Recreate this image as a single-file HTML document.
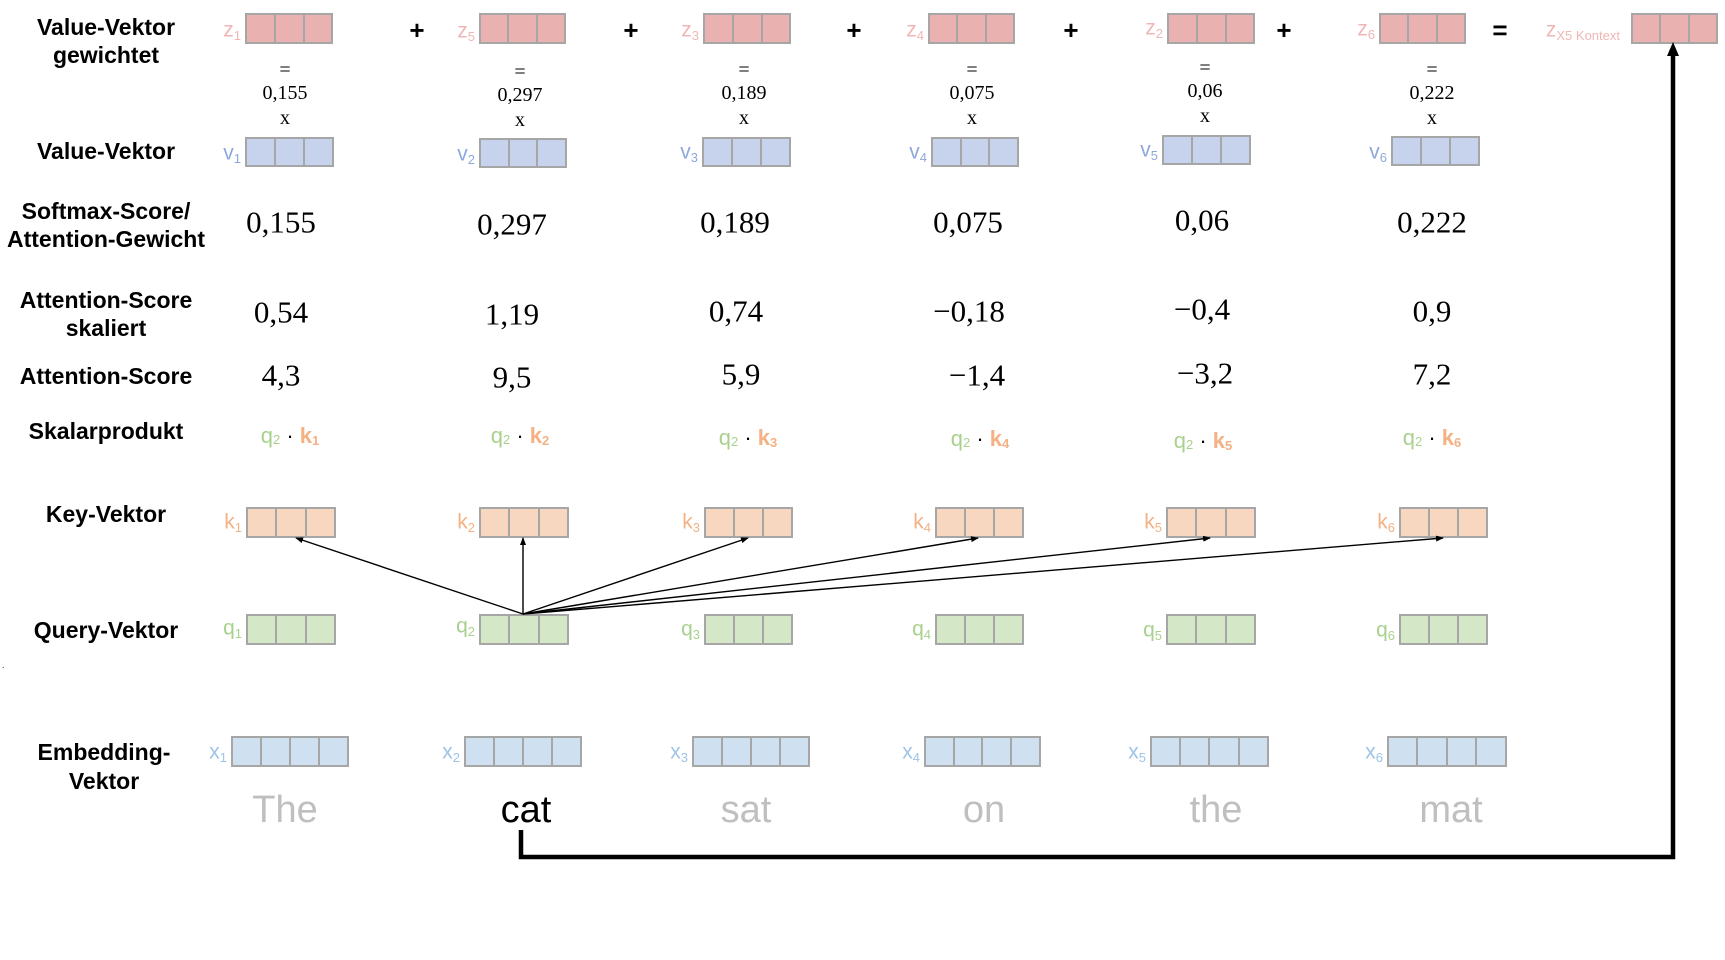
<!DOCTYPE html>
<html><head><meta charset="utf-8"><style>
html,body{margin:0;padding:0;background:#fff;}
svg{display:block;}
.lb{font-family:"Liberation Sans",Arial,sans-serif;font-weight:bold;font-size:23px;fill:#000;text-anchor:middle;dominant-baseline:central;}
.big{font-family:"Liberation Serif",serif;font-size:31px;fill:#000;text-anchor:middle;dominant-baseline:central;}
.sm{font-family:"Liberation Serif",serif;font-size:20px;fill:#000;text-anchor:middle;dominant-baseline:central;}
.op{font-family:"Liberation Sans",sans-serif;font-weight:bold;font-size:26px;fill:#000;text-anchor:middle;dominant-baseline:central;}
.vl{font-family:"Liberation Sans",sans-serif;font-size:21px;text-anchor:end;dominant-baseline:central;}
.sub{font-size:13px;}
.word{font-family:"Liberation Sans",sans-serif;font-size:38px;text-anchor:middle;dominant-baseline:central;fill:#bfbfbf;}
.dot{font-family:"Liberation Sans",sans-serif;font-size:22px;text-anchor:middle;dominant-baseline:central;}
</style></head><body>
<svg width="1725" height="960" viewBox="0 0 1725 960" xmlns="http://www.w3.org/2000/svg">
<defs>
<marker id="ah" markerWidth="8" markerHeight="6" refX="7" refY="3" orient="auto" markerUnits="userSpaceOnUse"><path d="M0,0 L8,3 L0,6 z" fill="#000"/></marker>
</defs>
<g stroke="#a6a6a6" stroke-width="2">
<!-- z row -->
<g fill="#eab1b1">
<rect x="246" y="14" width="86" height="29"/><rect x="480" y="14" width="85" height="29"/><rect x="704" y="14" width="86" height="29"/><rect x="929" y="14" width="85" height="29"/><rect x="1168" y="14" width="86" height="29"/><rect x="1380" y="14" width="85" height="29"/><rect x="1632" y="14" width="85" height="29"/>
</g>
<path d="M275 14v29M304 14v29M508 14v29M537 14v29M733 14v29M762 14v29M957 14v29M986 14v29M1197 14v29M1226 14v29M1408 14v29M1437 14v29M1660 14v29M1689 14v29"/>
<!-- v row -->
<g fill="#c7d3ec">
<rect x="246" y="138" width="87" height="28"/><rect x="480" y="139" width="86" height="28"/><rect x="703" y="138" width="87" height="28"/><rect x="932" y="138" width="86" height="28"/><rect x="1163" y="136" width="87" height="28"/><rect x="1392" y="137" width="87" height="28"/>
</g>
<path d="M275 138v28M304 138v28M509 139v28M537 139v28M732 138v28M761 138v28M961 138v28M989 138v28M1192 136v28M1221 136v28M1421 137v28M1450 137v28"/>
<!-- k row -->
<g fill="#f8d7c0">
<rect x="247" y="508" width="88" height="29"/><rect x="480" y="508" width="88" height="29"/><rect x="705" y="508" width="87" height="29"/><rect x="936" y="508" width="87" height="29"/><rect x="1167" y="508" width="88" height="29"/><rect x="1400" y="508" width="87" height="29"/>
</g>
<path d="M276 508v29M306 508v29M509 508v29M539 508v29M734 508v29M763 508v29M965 508v29M994 508v29M1196 508v29M1226 508v29M1429 508v29M1458 508v29"/>
<!-- q row -->
<g fill="#d4e8c7">
<rect x="247" y="615" width="88" height="29"/><rect x="480" y="615" width="88" height="29"/><rect x="705" y="615" width="87" height="29"/><rect x="936" y="615" width="87" height="29"/><rect x="1167" y="615" width="88" height="29"/><rect x="1400" y="615" width="87" height="29"/>
</g>
<path d="M276 615v29M306 615v29M509 615v29M539 615v29M734 615v29M763 615v29M965 615v29M994 615v29M1196 615v29M1226 615v29M1429 615v29M1458 615v29"/>
<!-- x row -->
<g fill="#cfe0f1">
<rect x="232" y="737" width="116" height="29"/><rect x="465" y="737" width="116" height="29"/><rect x="693" y="737" width="116" height="29"/><rect x="925" y="737" width="115" height="29"/><rect x="1151" y="737" width="117" height="29"/><rect x="1388" y="737" width="118" height="29"/>
</g>
<path d="M261 737v29M290 737v29M319 737v29M494 737v29M523 737v29M552 737v29M722 737v29M751 737v29M780 737v29M954 737v29M982 737v29M1011 737v29M1180 737v29M1209 737v29M1239 737v29M1417 737v29M1447 737v29M1476 737v29"/>
</g>

<!-- row labels -->
<text class="lb" x="106" y="27">Value-Vektor</text>
<text class="lb" x="106" y="55">gewichtet</text>
<text class="lb" x="106" y="151">Value-Vektor</text>
<text class="lb" x="106" y="211">Softmax-Score/</text>
<text class="lb" x="106" y="239">Attention-Gewicht</text>
<text class="lb" x="106" y="300">Attention-Score</text>
<text class="lb" x="106" y="328">skaliert</text>
<text class="lb" x="106" y="376">Attention-Score</text>
<text class="lb" x="106" y="431">Skalarprodukt</text>
<text class="lb" x="106" y="514">Key-Vektor</text>
<text class="lb" x="106" y="630">Query-Vektor</text>
<text class="lb" x="104" y="752">Embedding-</text>
<text class="lb" x="104" y="781">Vektor</text>
<text x="2" y="668" font-size="10" fill="#555">.</text>

<!-- operators -->
<text class="op" x="417" y="30">+</text><text class="op" x="631" y="30">+</text><text class="op" x="854" y="30">+</text><text class="op" x="1071" y="30">+</text><text class="op" x="1284" y="30">+</text><text class="op" x="1500" y="30">=</text>

<!-- z labels -->
<g class="vl" fill="#f0b6b6">
<text x="241" y="30">z<tspan class="sub" dy="5">1</tspan></text>
<text x="475" y="31">z<tspan class="sub" dy="5">5</tspan></text>
<text x="699" y="30">z<tspan class="sub" dy="5">3</tspan></text>
<text x="924" y="30">z<tspan class="sub" dy="5">4</tspan></text>
<text x="1163" y="28">z<tspan class="sub" dy="5">2</tspan></text>
<text x="1375" y="29">z<tspan class="sub" dy="5">6</tspan></text>
<text x="1620" y="30">z<tspan class="sub" dy="5" font-size="14">X5 Kontext</tspan></text>
</g>
<!-- v labels -->
<g class="vl" fill="#8fa8dc">
<text x="241" y="153">v<tspan class="sub" dy="5">1</tspan></text>
<text x="475" y="154">v<tspan class="sub" dy="5">2</tspan></text>
<text x="698" y="152">v<tspan class="sub" dy="5">3</tspan></text>
<text x="927" y="152">v<tspan class="sub" dy="5">4</tspan></text>
<text x="1158" y="150">v<tspan class="sub" dy="5">5</tspan></text>
<text x="1387" y="152">v<tspan class="sub" dy="5">6</tspan></text>
</g>
<!-- k labels -->
<g class="vl" fill="#f4b183">
<text x="242" y="522">k<tspan class="sub" dy="5">1</tspan></text>
<text x="475" y="522">k<tspan class="sub" dy="5">2</tspan></text>
<text x="700" y="522">k<tspan class="sub" dy="5">3</tspan></text>
<text x="931" y="522">k<tspan class="sub" dy="5">4</tspan></text>
<text x="1162" y="522">k<tspan class="sub" dy="5">5</tspan></text>
<text x="1395" y="522">k<tspan class="sub" dy="5">6</tspan></text>
</g>
<!-- q labels -->
<g class="vl" fill="#a9d18e">
<text x="242" y="628">q<tspan class="sub" dy="5">1</tspan></text>
<text x="475" y="626">q<tspan class="sub" dy="5">2</tspan></text>
<text x="700" y="629">q<tspan class="sub" dy="5">3</tspan></text>
<text x="931" y="629">q<tspan class="sub" dy="5">4</tspan></text>
<text x="1162" y="630">q<tspan class="sub" dy="5">5</tspan></text>
<text x="1395" y="630">q<tspan class="sub" dy="5">6</tspan></text>
</g>
<!-- x labels -->
<g class="vl" fill="#9dc3e6">
<text x="227" y="752">x<tspan class="sub" dy="5">1</tspan></text>
<text x="460" y="752">x<tspan class="sub" dy="5">2</tspan></text>
<text x="688" y="752">x<tspan class="sub" dy="5">3</tspan></text>
<text x="920" y="752">x<tspan class="sub" dy="5">4</tspan></text>
<text x="1146" y="752">x<tspan class="sub" dy="5">5</tspan></text>
<text x="1383" y="752">x<tspan class="sub" dy="5">6</tspan></text>
</g>

<!-- small =, number, x -->
<g class="sm">
<text x="285" y="70">=</text><text x="285" y="93">0,155</text><text x="285" y="118">x</text>
<text x="520" y="72">=</text><text x="520" y="95">0,297</text><text x="520" y="120">x</text>
<text x="744" y="70">=</text><text x="744" y="93">0,189</text><text x="744" y="118">x</text>
<text x="972" y="70">=</text><text x="972" y="93">0,075</text><text x="972" y="118">x</text>
<text x="1205" y="68">=</text><text x="1205" y="91">0,06</text><text x="1205" y="116">x</text>
<text x="1432" y="70">=</text><text x="1432" y="93">0,222</text><text x="1432" y="118">x</text>
</g>

<!-- big numbers -->
<g class="big">
<text x="281" y="222">0,155</text><text x="512" y="224">0,297</text><text x="735" y="222">0,189</text><text x="968" y="222">0,075</text><text x="1202" y="220">0,06</text><text x="1432" y="222">0,222</text>
<text x="281" y="312">0,54</text><text x="512" y="314">1,19</text><text x="736" y="311">0,74</text><text x="969" y="311">−0,18</text><text x="1202" y="309">−0,4</text><text x="1432" y="311">0,9</text>
<text x="281" y="375">4,3</text><text x="512" y="377">9,5</text><text x="741" y="374">5,9</text><text x="977" y="375">−1,4</text><text x="1205" y="373">−3,2</text><text x="1432" y="374">7,2</text>
</g>

<!-- dot products -->
<g class="dot">
<text x="290" y="435"><tspan fill="#a9d18e">q<tspan class="sub" dy="4">2</tspan></tspan><tspan dy="-4" fill="#000"> · </tspan><tspan fill="#f4b183" font-weight="bold">k<tspan class="sub" dy="5">1</tspan></tspan></text>
<text x="520" y="435"><tspan fill="#a9d18e">q<tspan class="sub" dy="4">2</tspan></tspan><tspan dy="-4" fill="#000"> · </tspan><tspan fill="#f4b183" font-weight="bold">k<tspan class="sub" dy="5">2</tspan></tspan></text>
<text x="748" y="437"><tspan fill="#a9d18e">q<tspan class="sub" dy="4">2</tspan></tspan><tspan dy="-4" fill="#000"> · </tspan><tspan fill="#f4b183" font-weight="bold">k<tspan class="sub" dy="5">3</tspan></tspan></text>
<text x="980" y="438"><tspan fill="#a9d18e">q<tspan class="sub" dy="4">2</tspan></tspan><tspan dy="-4" fill="#000"> · </tspan><tspan fill="#f4b183" font-weight="bold">k<tspan class="sub" dy="5">4</tspan></tspan></text>
<text x="1203" y="440"><tspan fill="#a9d18e">q<tspan class="sub" dy="4">2</tspan></tspan><tspan dy="-4" fill="#000"> · </tspan><tspan fill="#f4b183" font-weight="bold">k<tspan class="sub" dy="5">5</tspan></tspan></text>
<text x="1432" y="437"><tspan fill="#a9d18e">q<tspan class="sub" dy="4">2</tspan></tspan><tspan dy="-4" fill="#000"> · </tspan><tspan fill="#f4b183" font-weight="bold">k<tspan class="sub" dy="5">6</tspan></tspan></text>
</g>

<!-- arrows -->
<g stroke="#000" stroke-width="1.4" fill="none" marker-end="url(#ah)">
<line x1="523" y1="614" x2="296" y2="538"/>
<line x1="523" y1="614" x2="523" y2="538"/>
<line x1="523" y1="614" x2="748" y2="538"/>
<line x1="523" y1="614" x2="978" y2="538"/>
<line x1="523" y1="614" x2="1210" y2="538"/>
<line x1="523" y1="614" x2="1443" y2="538"/>
</g>

<!-- words -->
<text class="word" x="285" y="810">The</text>
<text class="word" x="526" y="810" style="fill:#000">cat</text>
<text class="word" x="746" y="810">sat</text>
<text class="word" x="984" y="810">on</text>
<text class="word" x="1216" y="810">the</text>
<text class="word" x="1451" y="810">mat</text>

<!-- bracket arrow -->
<path d="M521 830 V857 H1673 V52" stroke="#000" stroke-width="4.5" fill="none"/>
<path d="M1667 56 L1673 42 L1679 56 z" fill="#000"/>
</svg>
</body></html>
